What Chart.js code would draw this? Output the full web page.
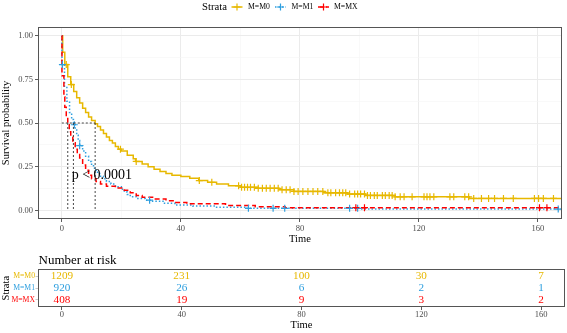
<!DOCTYPE html>
<html><head><meta charset="utf-8">
<script src="https://cdn.jsdelivr.net/npm/chart.js@4.4.0/dist/chart.umd.min.js"></script>
<style>
html,body{margin:0;padding:0;background:#fff;}
#wrap{position:relative;width:567px;height:333px;overflow:hidden;}
#main{position:absolute;left:0;top:0;width:567px;height:250px;}
#risk{position:absolute;left:0;top:250px;width:567px;height:83px;}
</style></head><body>
<div id="wrap"><canvas id="main" width="567" height="250"></canvas><canvas id="risk" width="567" height="83"></canvas></div>
<script>
// ---------- data ----------
const strata = ['M=M0', 'M=M1', 'M=MX'];
const colors = ['#E7B800', '#2E9FDF', '#FF0000'];

const m0Time = [0, 0.3, 1, 2, 3, 4, 5, 6, 7, 8, 9, 10, 11.2, 12, 13, 14, 15, 16, 17, 18, 19, 20, 22, 24, 24.8, 27, 29, 31, 33, 35, 37, 40, 43, 46, 49, 52, 56, 60, 66, 73, 78, 88, 96, 102, 112, 137, 168];
const m0Surv = [1, 0.905, 0.835, 0.765, 0.72, 0.68, 0.645, 0.615, 0.585, 0.56, 0.535, 0.515, 0.495, 0.48, 0.46, 0.44, 0.42, 0.40, 0.385, 0.365, 0.35, 0.34, 0.315, 0.295, 0.28, 0.265, 0.25, 0.235, 0.222, 0.211, 0.201, 0.193, 0.184, 0.17, 0.16, 0.15, 0.14, 0.132, 0.126, 0.118, 0.108, 0.10, 0.093, 0.085, 0.077, 0.068, 0.068];

const m1Time = [0, 0.05, 0.9, 1.7, 2.6, 3.3, 3.9, 4.5, 5, 5.5, 6, 7, 8, 9, 10, 11, 12, 13, 14, 15, 16.5, 18, 20, 21, 22, 23, 25, 28, 30, 34, 38, 44, 52, 62, 100, 168];
const m1Surv = [1, 0.835, 0.71, 0.625, 0.56, 0.52, 0.49, 0.46, 0.43, 0.40, 0.37, 0.34, 0.31, 0.28, 0.255, 0.23, 0.21, 0.195, 0.18, 0.165, 0.15, 0.135, 0.12, 0.105, 0.09, 0.078, 0.068, 0.058, 0.052, 0.04, 0.03, 0.024, 0.018, 0.011, 0.007, 0.007];

const mxTime = [0, 0.05, 0.7, 1, 1.5, 2, 2.5, 3, 3.7, 4.5, 5.2, 6, 7, 8, 9, 10, 11.5, 13, 15, 18, 21, 23, 25, 27, 31, 35, 38, 42, 55, 65, 75, 168];
const mxSurv = [1, 0.77, 0.65, 0.59, 0.53, 0.49, 0.45, 0.42, 0.387, 0.35, 0.32, 0.30, 0.26, 0.23, 0.20, 0.18, 0.165, 0.15, 0.138, 0.127, 0.115, 0.10, 0.085, 0.075, 0.065, 0.055, 0.045, 0.037, 0.028, 0.02, 0.015, 0.015];

const m0Censor = [1.5, 3.2, 19.7, 25, 46.2, 50.4, 59.4, 60.4, 61.4, 62.4, 63.4, 64.7, 66, 67.4, 68.7, 70, 71.4, 72.7, 74, 75.4, 76.7, 78, 79.4, 81, 82.7, 84.4, 86, 87.7, 89.4, 90.4, 92, 93.3, 94.4, 95.4, 96.7, 98.4, 99.4, 100.4, 101.7, 102.7, 103.7, 105, 106, 107.7, 108.7, 110, 111, 112, 113.7, 115, 117.7, 121.7, 122.7, 123.7, 125, 130.4, 131.7, 135.4, 136.7, 138.4, 141, 143.4, 145.4, 148.4, 151.7, 158.8, 160.2, 161.8, 165.2];
const m1Censor = [0.2, 4.2, 6.0, 29.5, 62.7, 71, 74.9, 96.7, 99.4, 166.8];
const mxCensor = [98.8, 101.7, 160.5, 163];

const medians = [11.2, 3.9, 2.0];
const pValueText = 'p < 0.0001';

const riskTimes = [0, 40, 80, 120, 160];
const m0Risk = [1209, 231, 100, 30, 7];
const m1Risk = [920, 26, 6, 2, 1];
const mxRisk = [408, 19, 9, 3, 2];

// ---------- helpers ----------
const FONT = "'Liberation Serif', 'Times New Roman', serif";
Chart.defaults.font.family = FONT;
function pts(t, s) { return t.map((v, i) => ({x: v, y: s[i]})); }
function stepAt(t, s, x) { let r = s[0]; for (let i = 0; i < t.length; i++) if (t[i] <= x) r = s[i]; return r; }
function censorPts(c, t, s) { return c.map(v => ({x: v, y: stepAt(t, s, v)})); }

const curves = [[m0Time, m0Surv, m0Censor], [m1Time, m1Surv, m1Censor], [mxTime, mxSurv, mxCensor]];
const dashes = [[], [1.5, 2], [5, 3]];

const datasets = [];
// median lines (on top)
const medMax = Math.max(...medians);
datasets.push({data: [{x: 0, y: 0.5}, {x: medMax, y: 0.5}], borderColor: '#333', borderWidth: 0.9, borderDash: [2, 2], pointRadius: 0, fill: false});
medians.forEach(m => datasets.push({data: [{x: m, y: 0.5}, {x: m, y: 0}], borderColor: '#333', borderWidth: 0.9, borderDash: [2, 2], pointRadius: 0, fill: false}));
// censor marks
for (let i = 2; i >= 0; i--) {
  datasets.push({data: censorPts(curves[i][2], curves[i][0], curves[i][1]), showLine: false, pointStyle: 'cross', pointRadius: 3.5, pointBorderWidth: 1.2, borderColor: colors[i], backgroundColor: colors[i]});
}
// step curves
for (let i = 2; i >= 0; i--) {
  datasets.push({data: pts(curves[i][0], curves[i][1]), stepped: 'before', borderColor: colors[i], borderWidth: 1.5, borderDash: dashes[i], pointRadius: 0, fill: false, tension: 0});
}

const frame = {
  id: 'frame',
  afterDraw(chart) {
    const {ctx, chartArea: a} = chart;
    ctx.save();
    ctx.strokeStyle = '#555'; ctx.lineWidth = 1;
    ctx.strokeRect(Math.round(a.left) + 0.5, Math.round(a.top) + 0.5, Math.round(a.right - a.left) - 1, Math.round(a.bottom - a.top) - 1);
    ctx.restore();
  }
};

const extras = {
  id: 'extras',
  afterDraw(chart) {
    const {ctx} = chart;
    const xs = chart.scales.x, ys = chart.scales.y;
    ctx.save();
    // p-value
    ctx.fillStyle = '#000';
    ctx.font = '14px ' + FONT;
    ctx.textAlign = 'left'; ctx.textBaseline = 'middle';
    ctx.fillText(pValueText, xs.getPixelForValue(3.3), ys.getPixelForValue(0.2));
    // legend
    ctx.font = '10.7px ' + FONT;
    ctx.fillText('Strata', 202, 7);
    const keyX = [231.5, 275, 318];
    const labX = [248, 291.5, 334];
    ctx.font = '7.7px ' + FONT;
    for (let i = 0; i < 3; i++) {
      ctx.strokeStyle = colors[i]; ctx.lineWidth = 1.5;
      ctx.setLineDash(dashes[i]);
      ctx.beginPath(); ctx.moveTo(keyX[i], 7); ctx.lineTo(keyX[i] + 11, 7); ctx.stroke();
      ctx.setLineDash([]); ctx.lineWidth = 1.2;
      const cx = keyX[i] + 5.5;
      ctx.beginPath(); ctx.moveTo(cx - 3.5, 7); ctx.lineTo(cx + 3.5, 7); ctx.moveTo(cx, 3.5); ctx.lineTo(cx, 10.5); ctx.stroke();
      ctx.fillStyle = '#000';
      ctx.fillText(strata[i], labX[i], 7);
    }
    ctx.restore();
  }
};

new Chart(document.getElementById('main'), {
  type: 'line',
  data: {datasets},
  options: {
    responsive: false, animation: false, devicePixelRatio: 1,
    layout: {padding: {top: 27, right: 2, left: 0, bottom: 0}},
    plugins: {legend: {display: false}, tooltip: {enabled: false}, title: {display: false}},
    scales: {
      x: {
        type: 'linear', min: -8, max: 168,
        afterFit: s => { s.height = 31; },
        border: {display: false},
        ticks: {stepSize: 20, includeBounds: false, autoSkip: false, maxRotation: 0, padding: 2, color: '#4D4D4D', font: {size: 8.5},
          callback: v => (v % 40 === 0 ? String(v) : '')},
        grid: {
          color: c => (c.tick && c.tick.value % 40 === 0 ? '#EBEBEB' : '#F5F5F5'),
          lineWidth: c => (c.tick && c.tick.value % 40 === 0 ? 1 : 0.6),
          tickColor: c => (c.tick && c.tick.value % 40 === 0 ? '#333' : 'rgba(0,0,0,0)'),
          tickLength: 3, tickWidth: 0.8
        },
        title: {display: true, text: 'Time', color: '#000', font: {size: 10.5}, padding: {top: 0, bottom: 4.7}}
      },
      y: {
        type: 'linear', min: -0.05, max: 1.05,
        afterFit: s => { s.width = 38; },
        border: {display: false},
        ticks: {stepSize: 0.125, includeBounds: false, autoSkip: false, padding: 2, color: '#4D4D4D', font: {size: 8.5},
          callback: v => (Math.abs(v * 4 - Math.round(v * 4)) < 1e-9 ? v.toFixed(2) : '')},
        grid: {
          color: c => (c.tick && Math.abs(c.tick.value * 4 - Math.round(c.tick.value * 4)) < 1e-9 ? '#EBEBEB' : '#F5F5F5'),
          lineWidth: c => (c.tick && Math.abs(c.tick.value * 4 - Math.round(c.tick.value * 4)) < 1e-9 ? 1 : 0.6),
          tickColor: c => (c.tick && Math.abs(c.tick.value * 4 - Math.round(c.tick.value * 4)) < 1e-9 ? '#333' : 'rgba(0,0,0,0)'),
          tickLength: 3, tickWidth: 0.8
        },
        title: {display: true, text: 'Survival probability', color: '#000', font: {size: 10.5}, padding: {top: 0, bottom: 0}}
      }
    }
  },
  plugins: [frame, extras]
});

// ---------- risk table ----------
const riskSets = [m0Risk, m1Risk, mxRisk].map((r, i) => ({
  data: riskTimes.map((t, j) => ({x: t, y: i + 1, v: r[j]})),
  pointRadius: 0, showLine: false, borderColor: colors[i], backgroundColor: colors[i]
}));

const riskText = {
  id: 'riskText',
  afterDraw(chart) {
    const {ctx} = chart;
    ctx.save();
    ctx.font = '11.2px ' + FONT;
    ctx.textAlign = 'center'; ctx.textBaseline = 'middle';
    chart.data.datasets.forEach((ds, i) => {
      const meta = chart.getDatasetMeta(i);
      meta.data.forEach((el, j) => {
        ctx.fillStyle = colors[i];
        ctx.fillText(String(ds.data[j].v), el.x, el.y);
      });
    });
    ctx.fillStyle = '#000';
    ctx.font = '13px ' + FONT;
    ctx.textAlign = 'left';
    ctx.fillText('Number at risk', 38.5, 10.5);
    ctx.restore();
  }
};

new Chart(document.getElementById('risk'), {
  type: 'scatter',
  data: {datasets: riskSets},
  options: {
    responsive: false, animation: false, devicePixelRatio: 1,
    layout: {padding: {top: 19.3, right: 2, left: 0, bottom: 0}},
    plugins: {legend: {display: false}, tooltip: {enabled: false}, title: {display: false}},
    scales: {
      x: {
        type: 'linear', min: -8, max: 168,
        afterFit: s => { s.height = 26; },
        border: {display: false},
        ticks: {stepSize: 40, includeBounds: false, autoSkip: false, maxRotation: 0, padding: 0, color: '#4D4D4D', font: {size: 8.5}},
        grid: {drawOnChartArea: false, tickColor: '#333', tickLength: 3, tickWidth: 0.8},
        title: {display: true, text: 'Time', color: '#000', font: {size: 10.5}, padding: {top: 0, bottom: 1.7}}
      },
      y: {
        type: 'linear', min: 0.4, max: 3.6, reverse: true,
        afterFit: s => { s.width = 38; },
        border: {display: false},
        ticks: {stepSize: 1, includeBounds: false, autoSkip: false, padding: 0.5, font: {size: 7.7},
          color: c => colors[Math.round(c.tick.value) - 1] || '#000',
          callback: v => strata[Math.round(v) - 1] || ''},
        grid: {drawOnChartArea: false, tickColor: '#BBB', tickLength: 2.5, tickWidth: 0.8},
        title: {display: true, text: 'Strata', color: '#000', font: {size: 10.5}, padding: {top: 0, bottom: 0}}
      }
    }
  },
  plugins: [frame, riskText]
});
</script>
</body></html>
